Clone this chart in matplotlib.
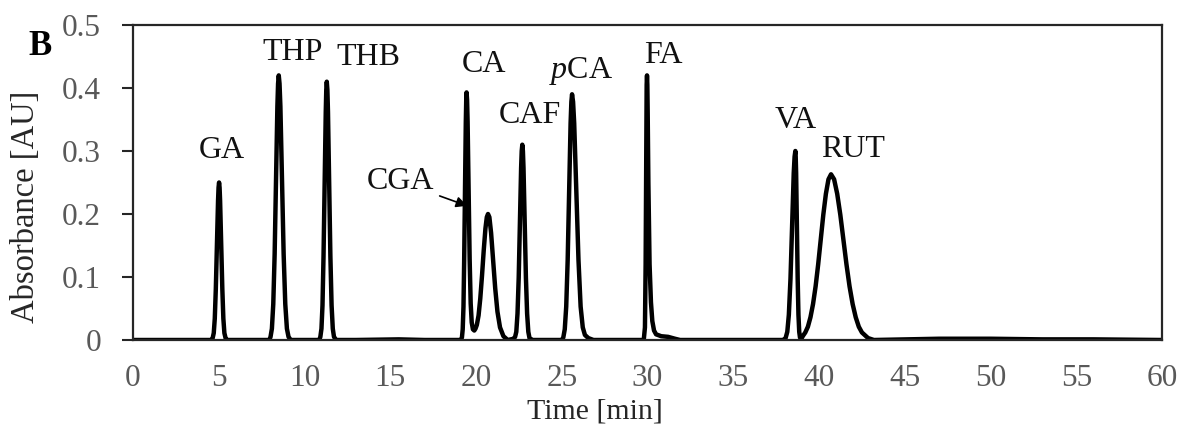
import matplotlib
matplotlib.use("Agg")
import matplotlib.pyplot as plt
import numpy as np

plt.rcParams['font.family'] = ['Liberation Serif', 'DejaVu Serif']
plt.rcParams['mathtext.fontset'] = 'custom'
plt.rcParams['mathtext.rm'] = 'Liberation Serif'
plt.rcParams['mathtext.it'] = 'Liberation Serif:italic'

# chromatogram trace (time [min], absorbance [AU])
t_base1 = [0.0, 2.0, 4.0, 4.55]
a_base1 = [0.0, 0.0, 0.0, 0.0]

t_ga = [4.58, 4.645, 4.71, 4.77, 4.83, 4.895, 4.96, 4.99, 5.02, 5.05, 5.08, 5.145, 5.21, 5.27, 5.33, 5.40, 5.48]
a_ga = [0.0, 0.003, 0.011, 0.034, 0.081, 0.152, 0.221, 0.242, 0.250, 0.242, 0.221, 0.152, 0.081, 0.034, 0.011, 0.003, 0.0]

t_thp = [7.95, 8.02, 8.10, 8.18, 8.26, 8.34, 8.42, 8.46, 8.50, 8.545, 8.595, 8.69, 8.785, 8.88, 8.975, 9.07, 9.20]
a_thp = [0.0, 0.005, 0.018, 0.057, 0.136, 0.255, 0.371, 0.407, 0.420, 0.407, 0.371, 0.255, 0.136, 0.057, 0.018, 0.005, 0.0]

t_thb = [10.86, 10.925, 10.99, 11.05, 11.11, 11.175, 11.24, 11.27, 11.30, 11.335, 11.37, 11.44, 11.51, 11.58, 11.65, 11.72, 11.85]
a_thb = [0.0, 0.005, 0.018, 0.055, 0.133, 0.249, 0.362, 0.397, 0.410, 0.397, 0.362, 0.249, 0.133, 0.055, 0.018, 0.005, 0.0]

t_base2 = [13.0, 15.5, 17.0, 19.0]
a_base2 = [0.0, 0.001, 0.0, 0.0]

t_ca_cga = [19.10, 19.18, 19.225, 19.27, 19.31, 19.36, 19.405, 19.43, 19.45, 19.48, 19.51, 19.57,
            19.63, 19.69, 19.75, 19.82, 19.90, 19.97, 20.05, 20.15, 20.25, 20.35, 20.45, 20.55,
            20.63, 20.70, 20.78, 20.88, 21.00, 21.12, 21.25, 21.40, 21.60, 21.85]
a_ca_cga = [0.000, 0.004, 0.017, 0.053, 0.126, 0.240, 0.345, 0.381, 0.393, 0.381, 0.347, 0.238,
            0.128, 0.058, 0.028, 0.017, 0.015, 0.018, 0.024, 0.039, 0.066, 0.102, 0.142, 0.177,
            0.195, 0.200, 0.195, 0.170, 0.125, 0.082, 0.045, 0.020, 0.006, 0.000]

t_caf = [22.20, 22.28, 22.35, 22.42, 22.49, 22.56, 22.63, 22.665, 22.70, 22.735, 22.77, 22.84,
         22.91, 22.98, 23.05, 23.12, 23.30]
a_caf = [0.002, 0.005, 0.013, 0.042, 0.099, 0.189, 0.273, 0.300, 0.310, 0.300, 0.273, 0.189,
         0.099, 0.042, 0.013, 0.003, 0.0]

t_pca = [25.0, 25.09, 25.175, 25.26, 25.345, 25.43, 25.515, 25.56, 25.60, 25.66, 25.725, 25.85, 25.975,
         26.10, 26.225, 26.35, 26.55, 26.85]
a_pca = [0.0, 0.004, 0.017, 0.053, 0.127, 0.237, 0.344, 0.378, 0.390, 0.378, 0.344, 0.237, 0.127,
         0.053, 0.020, 0.008, 0.003, 0.0]

t_fa = [29.78, 29.85, 29.89, 29.93, 29.95, 29.97, 29.99, 30.01, 30.05, 30.12, 30.20, 30.28,
        30.38, 30.50, 30.80, 31.20, 31.60, 31.90]
a_fa = [0.0, 0.02, 0.12, 0.33, 0.405, 0.420, 0.405, 0.36, 0.25, 0.12, 0.06, 0.03,
        0.015, 0.009, 0.006, 0.005, 0.002, 0.0]

t_base3 = [34.0, 37.0, 37.9]
a_base3 = [0.0, 0.0, 0.0]

t_va_rut = [38.05, 38.15, 38.24, 38.335, 38.43, 38.525, 38.575, 38.62, 38.64, 38.665, 38.71, 38.755,
            38.80, 38.845, 38.89, 38.97, 39.05, 39.20, 39.35, 39.50, 39.65, 39.80, 39.95, 40.10,
            40.25, 40.40, 40.55, 40.70, 40.88, 41.06, 41.24, 41.42, 41.60, 41.78, 41.96, 42.14,
            42.32, 42.50, 42.86, 43.20]
a_va_rut = [0.003, 0.013, 0.040, 0.097, 0.183, 0.265, 0.291, 0.300, 0.291, 0.265, 0.183, 0.097,
            0.040, 0.013, 0.004, 0.002, 0.006, 0.012, 0.021, 0.036, 0.057, 0.085, 0.120, 0.160,
            0.199, 0.232, 0.255, 0.263, 0.255, 0.232, 0.199, 0.160, 0.120, 0.085, 0.057, 0.036,
            0.021, 0.012, 0.003, 0.0]

t_base4 = [45.0, 47.0, 50.0, 53.0, 56.0, 60.0]
a_base4 = [0.001, 0.002, 0.002, 0.001, 0.001, 0.0]

# peak labels: name, x, y (data coords, text centre)
peak_names = ['GA', 'THP', 'THB', 'CA', 'CAF', r'$\mathit{p}$CA', 'FA', 'VA', 'RUT']
label_x = [5.2, 9.3, 13.75, 20.45, 23.15, 26.1, 30.9, 38.65, 42.0]
label_y = [0.30, 0.457, 0.449, 0.437, 0.357, 0.427, 0.452, 0.348, 0.303]

time = np.concatenate([t_base1, t_ga, t_thp, t_thb, t_base2, t_ca_cga, t_caf, t_pca,
                       t_fa, t_base3, t_va_rut, t_base4])
absorb = np.concatenate([a_base1, a_ga, a_thp, a_thb, a_base2, a_ca_cga, a_caf, a_pca,
                         a_fa, a_base3, a_va_rut, a_base4])

fig = plt.figure(figsize=(11.83, 4.30), dpi=100)
ax = fig.add_axes([0.1124, 0.2093, 0.8699, 0.7326])

ax.plot(time, absorb, color='black', lw=3.2, solid_joinstyle='round', solid_capstyle='round')

ax.set_xlim(0, 60)
ax.set_ylim(0, 0.5)
ax.set_xticks(range(0, 61, 5))
ax.set_yticks([0, 0.1, 0.2, 0.3, 0.4, 0.5])
ax.set_yticklabels(['0', '0.1', '0.2', '0.3', '0.4', '0.5'])
ax.tick_params(axis='x', length=0, pad=17, labelsize=22.5, labelcolor='#595959')
ax.tick_params(axis='y', length=8, width=1.5, pad=15, labelsize=22.5, labelcolor='#595959',
               color='#262626')
for s in ax.spines.values():
    s.set_linewidth(1.6)
    s.set_color('#262626')

for name, x, y in zip(peak_names, label_x, label_y):
    ax.text(x, y, name, fontsize=23, ha='center', va='center', color='#111111')

ax.annotate('CGA', xy=(19.48, 0.213), xytext=(15.6, 0.251), fontsize=23,
            ha='center', va='center', color='#111111',
            arrowprops=dict(arrowstyle='-|>', color='black', lw=1.2,
                            mutation_scale=16, shrinkA=2, shrinkB=0))

fig.text(0.034, 0.893, 'B', fontsize=25, fontweight='bold', ha='center', va='center')
fig.text(0.022, 0.52, 'Absorbance [AU]', fontsize=23.5, rotation=90,
         ha='center', va='center', color='#262626')
fig.text(0.503, 0.044, 'Time [min]', fontsize=21.5, ha='center', va='center', color='#262626')

fig.savefig('out.png', dpi=100)
